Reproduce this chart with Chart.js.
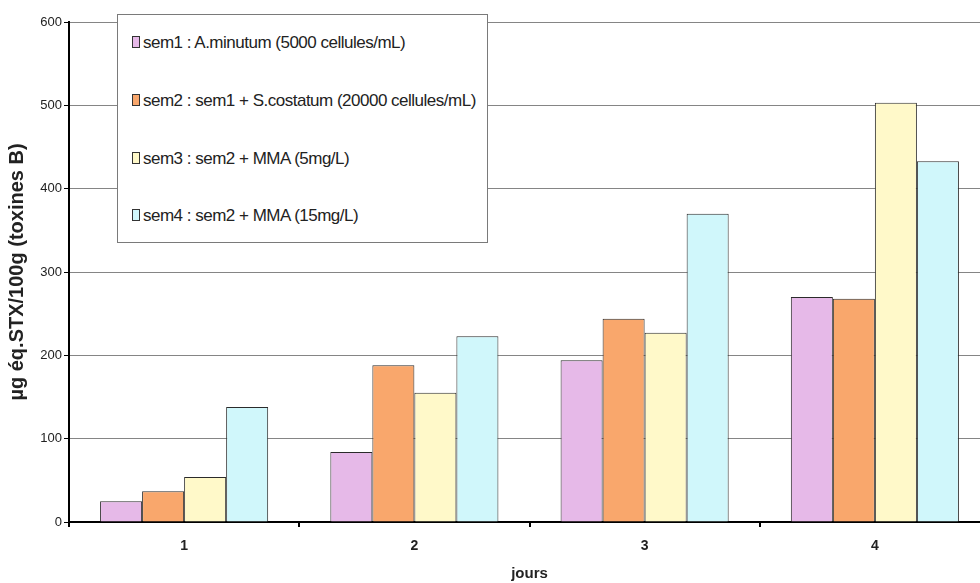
<!DOCTYPE html>
<html>
<head>
<meta charset="utf-8">
<script src="https://cdn.jsdelivr.net/npm/chart.js@4/dist/chart.umd.min.js"></script>
<style>
  html, body { margin: 0; padding: 0; background: #fff; overflow: hidden; }
  #wrap { position: relative; width: 990px; height: 583px; }
  #legend {
    position: absolute; left: 117px; top: 14px; width: 371px; height: 229px;
    background: #fff; border: 1px solid #7a7a7a; box-sizing: border-box;
    font-family: 'Liberation Sans', Arial, sans-serif;
    font-size: 17px; color: #222; letter-spacing: -0.5px;
  }
  #legend .item { position: absolute; left: 14px; white-space: nowrap; }
  #legend .sw {
    display: inline-block; width: 6px; height: 10px; border: 1px solid #333;
    margin-right: 3px; vertical-align: 0px;
  }
</style>
</head>
<body>
<div id="wrap">
  <canvas id="mainBarChart" width="990" height="583"></canvas>
  <div id="legend"></div>
</div>
<script>
// jours de prélèvement
const categories = ['1', '2', '3', '4'];

// toxines B (µg éq.STX/100g) par semis
const sem1 = [25, 84, 194, 270];
const sem2 = [37, 188, 244, 268];
const sem3 = [54, 155, 227, 503];
const sem4 = [138, 223, 370, 433];

const seriesLabels = [
    'sem1 : A.minutum (5000 cellules/mL)',
    'sem2 : sem1 + S.costatum (20000 cellules/mL)',
    'sem3 : sem2 + MMA (5mg/L)',
    'sem4 : sem2 + MMA (15mg/L)'
];
const seriesColors = ['#e6b9e8', '#f9a76c', '#fff9c9', '#d0f7fb'];

const yTicks = [0, 100, 200, 300, 400, 500, 600];

function buildLegend() {
    const box = document.getElementById('legend');
    const rows = [18, 76, 134, 191];
    seriesLabels.forEach((label, i) => {
        const item = document.createElement('div');
        item.className = 'item';
        item.style.top = rows[i] + 'px';
        const sw = document.createElement('span');
        sw.className = 'sw';
        sw.style.background = seriesColors[i];
        item.appendChild(sw);
        item.appendChild(document.createTextNode(label));
        box.appendChild(item);
    });
}

function renderChart() {
    const ctx = document.getElementById('mainBarChart').getContext('2d');
    const allSeries = [sem1, sem2, sem3, sem4];

    new Chart(ctx, {
        type: 'bar',
        data: {
            labels: categories,
            datasets: allSeries.map((vals, i) => ({
                label: seriesLabels[i],
                data: vals,
                backgroundColor: seriesColors[i],
                borderColor: '#2b2b2b',
                borderWidth: 1,
                barPercentage: 1,
                categoryPercentage: 0.73
            }))
        },
        options: {
            responsive: false,
            animation: false,
            layout: { padding: { top: 22, left: 5, right: 0, bottom: 0 } },
            plugins: { legend: { display: false }, tooltip: { enabled: false } },
            scales: {
                y: {
                    min: 0,
                    max: 600,
                    afterBuildTicks: s => { s.ticks = yTicks.map(v => ({ value: v })); },
                    afterFit: s => { s.width = 64; },
                    border: { color: '#000', width: 2 },
                    grid: { color: '#858585', lineWidth: 1, tickColor: '#000', tickLength: 5 },
                    ticks: {
                        color: '#222',
                        padding: 2,
                        font: { family: "'Liberation Sans', Arial, sans-serif", size: 13 }
                    },
                    title: {
                        display: true,
                        text: 'µg éq.STX/100g (toxines B)',
                        color: '#222',
                        padding: { top: 0, bottom: 4 },
                        font: { family: "'Liberation Sans', Arial, sans-serif", size: 20, weight: 'bold' }
                    }
                },
                x: {
                    afterFit: s => { s.height = 61; },
                    border: { color: '#000', width: 2 },
                    grid: { drawOnChartArea: false, tickColor: '#000', tickLength: 5, lineWidth: 2 },
                    ticks: {
                        color: '#222',
                        padding: 11,
                        font: { family: "'Liberation Sans', Arial, sans-serif", size: 14, weight: 'bold' }
                    },
                    title: {
                        display: true,
                        text: 'jours',
                        color: '#222',
                        padding: { top: 4, bottom: 0 },
                        font: { family: "'Liberation Sans', Arial, sans-serif", size: 15, weight: 'bold' }
                    }
                }
            }
        }
    });
}

document.addEventListener('DOMContentLoaded', () => {
    buildLegend();
    renderChart();
});
</script>
</body>
</html>
